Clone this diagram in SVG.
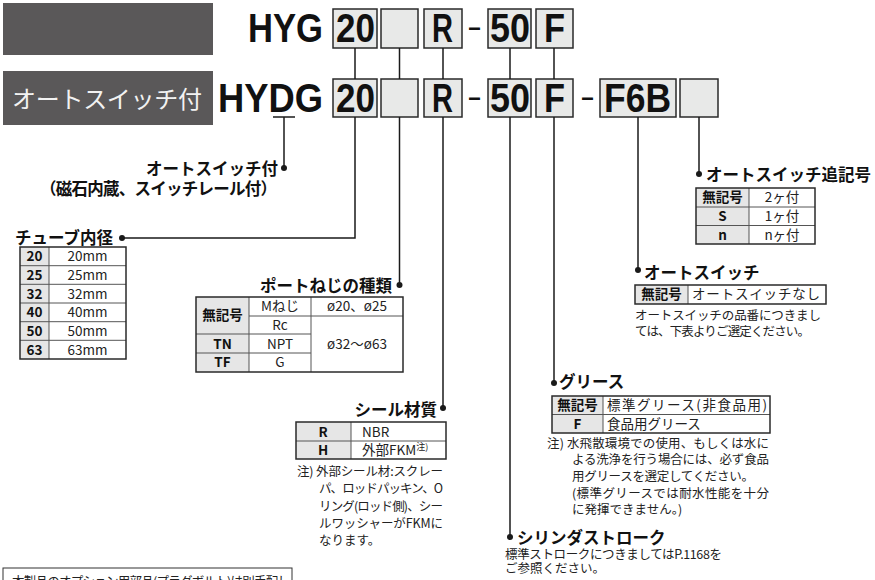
<svg xmlns="http://www.w3.org/2000/svg" width="875" height="580" viewBox="0 0 875 580">
<defs>
<style>
.bar{fill:#5a5859}
.box{fill:#e8e9e8;stroke:#2a2a2a;stroke-width:1.5}
.big{font-family:'Liberation Sans',Arial,sans-serif;font-weight:bold;font-size:40px;fill:#111}
.dash{font-family:'Liberation Sans',Arial,sans-serif;font-size:32px;fill:#111}
.ln{stroke:#1a1a1a;stroke-width:1.5;fill:none}
.dot{fill:#1a1a1a}
.hd{font-family:'Noto Sans CJK JP','Noto Sans',sans-serif;font-weight:bold;font-size:16.5px;fill:#111}
.tx{font-family:'Noto Sans CJK JP','Noto Sans',sans-serif;font-size:13.5px;fill:#222}
.tb{font-family:'Noto Sans CJK JP','Liberation Sans',sans-serif;font-weight:bold;font-size:13.5px;fill:#111}
.nt{font-family:'Noto Sans CJK JP','Noto Sans',sans-serif;font-size:12.5px;fill:#222}
.g{fill:#e6e6e6}
.w{fill:#fff}
.ob{fill:none;stroke:#2a2a2a;stroke-width:1.5}
.ib{stroke:#555;stroke-width:1;fill:none}
</style>
</defs>

<g id="header">
<rect class="bar" x="3" y="3" width="210" height="52"/>
<rect class="bar" x="3" y="71" width="210" height="54"/>
<text x="12" y="108" font-family="'Noto Sans CJK JP','Noto Sans',sans-serif" font-size="24" fill="#f2f2f2" textLength="190">オートスイッチ付</text>
</g>

<g id="model-top">
<text class="big" x="248" y="42" textLength="75" lengthAdjust="spacingAndGlyphs">HYG</text>
<rect class="box" x="333" y="9" width="44" height="39"/>
<text class="big" x="336" y="42" textLength="39" lengthAdjust="spacingAndGlyphs">20</text>
<rect class="box" x="381" y="9" width="37" height="39"/>
<rect class="box" x="424" y="9" width="38" height="39"/>
<text class="big" x="432" y="42" textLength="21" lengthAdjust="spacingAndGlyphs">R</text>
<text class="dash" x="467" y="37" textLength="15" lengthAdjust="spacingAndGlyphs">-</text>
<rect class="box" x="488" y="9" width="43" height="39"/>
<text class="big" x="490" y="42" textLength="40" lengthAdjust="spacingAndGlyphs">50</text>
<rect class="box" x="536" y="9" width="37" height="39"/>
<text class="big" x="544" y="42" textLength="21" lengthAdjust="spacingAndGlyphs">F</text>
</g>

<g id="model-bottom">
<text class="big" x="218" y="112" textLength="105" lengthAdjust="spacingAndGlyphs">HYDG</text>
<rect class="box" x="333" y="79" width="44" height="38"/>
<text class="big" x="336" y="112" textLength="39" lengthAdjust="spacingAndGlyphs">20</text>
<rect class="box" x="381" y="79" width="37" height="38"/>
<rect class="box" x="424" y="79" width="38" height="38"/>
<text class="big" x="432" y="112" textLength="21" lengthAdjust="spacingAndGlyphs">R</text>
<text class="dash" x="467" y="107" textLength="15" lengthAdjust="spacingAndGlyphs">-</text>
<rect class="box" x="488" y="79" width="43" height="38"/>
<text class="big" x="490" y="112" textLength="40" lengthAdjust="spacingAndGlyphs">50</text>
<rect class="box" x="536" y="79" width="37" height="38"/>
<text class="big" x="544" y="112" textLength="21" lengthAdjust="spacingAndGlyphs">F</text>
<text class="dash" x="580" y="107" textLength="15" lengthAdjust="spacingAndGlyphs">-</text>
<rect class="box" x="600" y="79" width="76" height="38"/>
<text class="big" x="604" y="112" textLength="67" lengthAdjust="spacingAndGlyphs">F6B</text>
<rect class="box" x="680" y="79" width="38" height="38"/>
</g>

<g id="connectors">
<line class="ln" x1="355" y1="48" x2="355" y2="79"/>
<line class="ln" x1="399.5" y1="48" x2="399.5" y2="79"/>
<line class="ln" x1="443" y1="48" x2="443" y2="79"/>
<line class="ln" x1="510" y1="48" x2="510" y2="79"/>
<line class="ln" x1="554" y1="48" x2="554" y2="79"/>
<line class="ln" x1="273" y1="117" x2="295" y2="117"/>
<polyline class="ln" points="284,117 284,168"/>
<polyline class="ln" points="355,117 355,238 122,238"/>
<polyline class="ln" points="399.5,117 399.5,285"/>
<polyline class="ln" points="443,117 443,408"/>
<polyline class="ln" points="510,117 510,537"/>
<polyline class="ln" points="554,117 554,383"/>
<polyline class="ln" points="638,117 638,270"/>
<polyline class="ln" points="699,117 699,174"/>
<circle class="dot" cx="284" cy="168" r="3"/>
<circle class="dot" cx="122" cy="238" r="3"/>
<circle class="dot" cx="399.5" cy="285" r="3"/>
<circle class="dot" cx="443" cy="408" r="3"/>
<circle class="dot" cx="510" cy="537" r="3"/>
<circle class="dot" cx="554" cy="383" r="3"/>
<circle class="dot" cx="638" cy="270" r="3"/>
<circle class="dot" cx="699" cy="174" r="3"/>
</g>

<g id="auto-switch-type">
<text class="hd" x="278" y="175" text-anchor="end">オートスイッチ付</text>
<text class="hd" x="277" y="195" text-anchor="end" textLength="237">（磁石内蔵、スイッチレール付）</text>
</g>

<g id="tube-bore">
<text class="hd" x="15" y="243.5" font-size="16">チューブ内径</text>
<rect class="g" x="20" y="247" width="29" height="112"/>
<rect class="w" x="49" y="247" width="77" height="112"/>
<g class="ib">
<line x1="49" y1="247" x2="49" y2="359"/>
<line x1="20" y1="265.7" x2="126" y2="265.7"/>
<line x1="20" y1="284.3" x2="126" y2="284.3"/>
<line x1="20" y1="303" x2="126" y2="303"/>
<line x1="20" y1="321.7" x2="126" y2="321.7"/>
<line x1="20" y1="340.3" x2="126" y2="340.3"/>
</g>
<rect class="ob" x="20" y="247" width="106" height="112"/>
<g class="tb" text-anchor="middle">
<text x="34.5" y="261">20</text>
<text x="34.5" y="280">25</text>
<text x="34.5" y="298.5">32</text>
<text x="34.5" y="317">40</text>
<text x="34.5" y="336">50</text>
<text x="34.5" y="354.5">63</text>
</g>
<g class="tx" text-anchor="middle" font-size="14">
<text x="87.5" y="261">20mm</text>
<text x="87.5" y="280">25mm</text>
<text x="87.5" y="298.5">32mm</text>
<text x="87.5" y="317">40mm</text>
<text x="87.5" y="336">50mm</text>
<text x="87.5" y="354.5">63mm</text>
</g>
</g>

<g id="port-thread">
<text class="hd" x="392" y="291.5" text-anchor="end">ポートねじの種類</text>
<rect class="g" x="196" y="297" width="53" height="75"/>
<rect class="w" x="249" y="297" width="154" height="75"/>
<g class="ib">
<line x1="249" y1="297" x2="249" y2="372"/>
<line x1="311" y1="297" x2="311" y2="372"/>
<line x1="249" y1="316" x2="403" y2="316"/>
<line x1="196" y1="334" x2="311" y2="334"/>
<line x1="196" y1="353" x2="311" y2="353"/>
</g>
<rect class="ob" x="196" y="297" width="207" height="75"/>
<g class="tb" text-anchor="middle">
<text x="222.5" y="320">無記号</text>
<text x="222.5" y="348.5">TN</text>
<text x="222.5" y="367">TF</text>
</g>
<g class="tx" text-anchor="middle">
<text x="280" y="311">Mねじ</text>
<text x="280" y="330">Rc</text>
<text x="280" y="348.5">NPT</text>
<text x="280" y="367">G</text>
<text x="357" y="311">ø20、ø25</text>
<text x="357" y="349">ø32～ø63</text>
</g>
</g>

<g id="seal-material">
<text class="hd" x="437" y="415.5" text-anchor="end">シール材質</text>
<rect class="g" x="296" y="422" width="55" height="37"/>
<rect class="w" x="351" y="422" width="95" height="37"/>
<g class="ib">
<line x1="351" y1="422" x2="351" y2="459"/>
<line x1="296" y1="441" x2="446" y2="441"/>
</g>
<rect class="ob" x="296" y="422" width="150" height="37"/>
<text class="tb" x="323" y="436.5" text-anchor="middle">R</text>
<text class="tb" x="323" y="455" text-anchor="middle">H</text>
<text class="tx" x="362" y="436.5">NBR</text>
<text class="tx" x="362" y="455">外部FKM<tspan font-size="9" dy="-5">注)</tspan></text>
<g class="nt">
<text x="297" y="476" textLength="146">注) 外部シール材:スクレー</text>
<text x="319" y="493" textLength="124">パ、ロッドパッキン、O</text>
<text x="319" y="510.5" textLength="124">リング(ロッド側)、シー</text>
<text x="319" y="528" textLength="124">ルワッシャーがFKMに</text>
<text x="319" y="545">なります。</text>
</g>
</g>

<g id="cylinder-stroke">
<text class="hd" x="517" y="543.5">シリンダストローク</text>
<text class="nt" x="505" y="559" textLength="217">標準ストロークにつきましてはP.1168を</text>
<text class="nt" x="505" y="573">ご参照ください。</text>
</g>

<g id="grease">
<text class="hd" x="559" y="388">グリース</text>
<rect class="g" x="552" y="396" width="51" height="37"/>
<rect class="w" x="603" y="396" width="167" height="37"/>
<g class="ib">
<line x1="603" y1="396" x2="603" y2="433"/>
<line x1="552" y1="414.5" x2="770" y2="414.5"/>
</g>
<rect class="ob" x="552" y="396" width="218" height="37"/>
<text class="tb" x="577.5" y="410" text-anchor="middle">無記号</text>
<text class="tb" x="577.5" y="428.5" text-anchor="middle">F</text>
<text class="tx" x="607" y="410" textLength="160">標準グリース(非食品用)</text>
<text class="tx" x="607" y="428.5">食品用グリース</text>
<g class="nt">
<text x="547" y="447.5" textLength="222">注) 水飛散環境での使用、もしくは水に</text>
<text x="572" y="464" textLength="197">よる洗浄を行う場合には、必ず食品</text>
<text x="572" y="481" textLength="182">用グリースを選定してください。</text>
<text x="572" y="497.5" textLength="197">(標準グリースでは耐水性能を十分</text>
<text x="572" y="514">に発揮できません。)</text>
</g>
</g>

<g id="auto-switch">
<text class="hd" x="644" y="279">オートスイッチ</text>
<rect class="g" x="635" y="285" width="53" height="19"/>
<rect class="w" x="688" y="285" width="138" height="19"/>
<line class="ib" x1="688" y1="285" x2="688" y2="304"/>
<rect class="ob" x="635" y="285" width="191" height="19"/>
<text class="tb" x="661.5" y="299" text-anchor="middle">無記号</text>
<text class="tx" x="692" y="299" font-size="14" textLength="128">オートスイッチなし</text>
<text class="nt" x="635" y="320" textLength="186">オートスイッチの品番につきまし</text>
<text class="nt" x="635" y="336" textLength="175">ては、下表よりご選定ください。</text>
</g>

<g id="switch-suffix">
<text class="hd" x="706" y="181">オートスイッチ追記号</text>
<rect class="g" x="696" y="188" width="53" height="56"/>
<rect class="w" x="749" y="188" width="66" height="56"/>
<g class="ib">
<line x1="749" y1="188" x2="749" y2="244"/>
<line x1="696" y1="207" x2="815" y2="207"/>
<line x1="696" y1="225.5" x2="815" y2="225.5"/>
</g>
<rect class="ob" x="696" y="188" width="119" height="56"/>
<text class="tb" x="722.5" y="202" text-anchor="middle">無記号</text>
<text class="tb" x="722.5" y="221" text-anchor="middle">S</text>
<text class="tb" x="722.5" y="239.5" text-anchor="middle">n</text>
<g class="tx" text-anchor="middle">
<text x="782" y="202">2ヶ付</text>
<text x="782" y="221">1ヶ付</text>
<text x="782" y="239.5">nヶ付</text>
</g>
</g>

<g id="footnote">
<rect x="3" y="568" width="289" height="20" fill="#fff" stroke="#333" stroke-width="1"/>
<text class="nt" x="12" y="586" font-size="13" textLength="278">本製品のオプション用部品(プラグボルト)は別手配し</text>
</g>
</svg>
